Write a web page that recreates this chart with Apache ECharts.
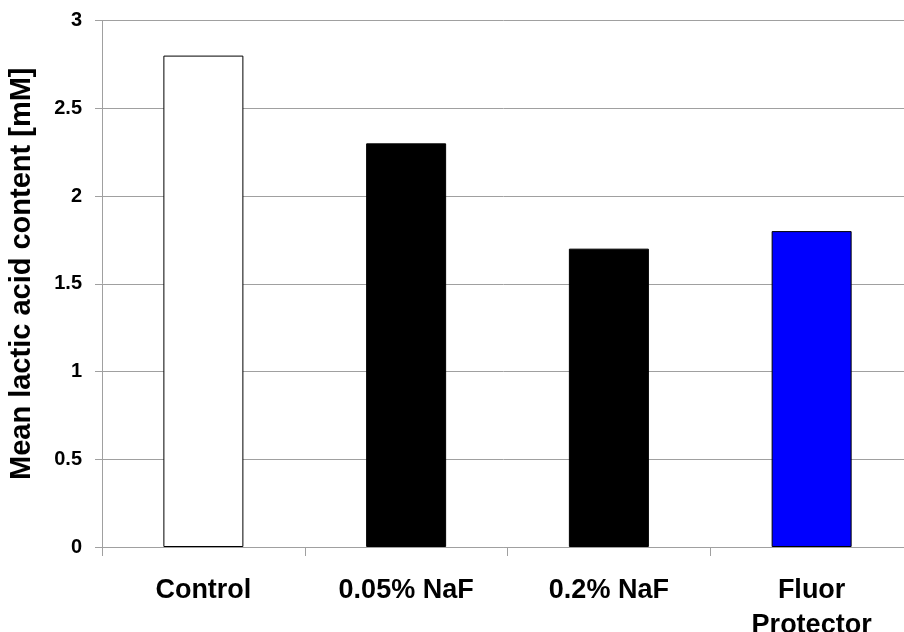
<!DOCTYPE html>
<html>
<head>
<meta charset="utf-8">
<script src="https://cdn.jsdelivr.net/npm/echarts@6/dist/echarts.min.js"></script>
<style>
html,body{margin:0;padding:0;background:#fff;}
#chart{width:904px;height:632px;}
</style>
</head>
<body>
<div id="chart"></div>
<script>
const categories = ['Control', '0.05% NaF', '0.2% NaF', 'Fluor\nProtector'];
const values = [2.8, 2.3, 1.7, 1.8];
const barColors = ['#ffffff', '#000000', '#000000', '#0000ff'];
const yTicks = [0, 0.5, 1, 1.5, 2, 2.5, 3];
const yTitle = 'Mean lactic acid content [mM]';

const chart = echarts.init(document.getElementById('chart'), null, {renderer: 'canvas'});
const font = '"Liberation Sans", Arial, sans-serif';
chart.setOption({
  animation: false,
  backgroundColor: '#ffffff',
  grid: {left: 102, right: -9, top: 20.5, bottom: 85, containLabel: false, outerBoundsMode: 'none'},
  xAxis: {
    type: 'category',
    data: categories,
    axisLine: {lineStyle: {color: '#a0a0a0', width: 1}},
    axisTick: {show: true, length: 9, lineStyle: {color: '#a0a0a0'}},
    axisLabel: {
      color: '#000', fontFamily: font, fontWeight: 'bold', fontSize: 27,
      margin: 26, lineHeight: 35, interval: 0, hideOverlap: false
    }
  },
  yAxis: {
    type: 'value',
    min: yTicks[0], max: yTicks[yTicks.length - 1], interval: 0.5,
    name: yTitle,
    nameLocation: 'middle',
    nameGap: 66,
    nameTextStyle: {color: '#000', fontFamily: font, fontWeight: 'bold', fontSize: 29, padding: [0, 0, 0, 20]},
    axisLine: {show: true, lineStyle: {color: '#a0a0a0', width: 1}},
    axisTick: {show: true, length: 7, inside: false, lineStyle: {color: '#a0a0a0'}},
    splitLine: {show: true, lineStyle: {color: '#a0a0a0', width: 1}},
    axisLabel: {
      color: '#000', fontFamily: font, fontWeight: 'bold', fontSize: 20, margin: 20,
      formatter: v => String(v)
    }
  },
  series: [{
    type: 'bar',
    barWidth: 80,
    data: values.map((v, i) => ({
      value: v,
      itemStyle: {color: barColors[i], borderColor: '#000', borderWidth: 1}
    }))
  }]
});
</script>
</body>
</html>
